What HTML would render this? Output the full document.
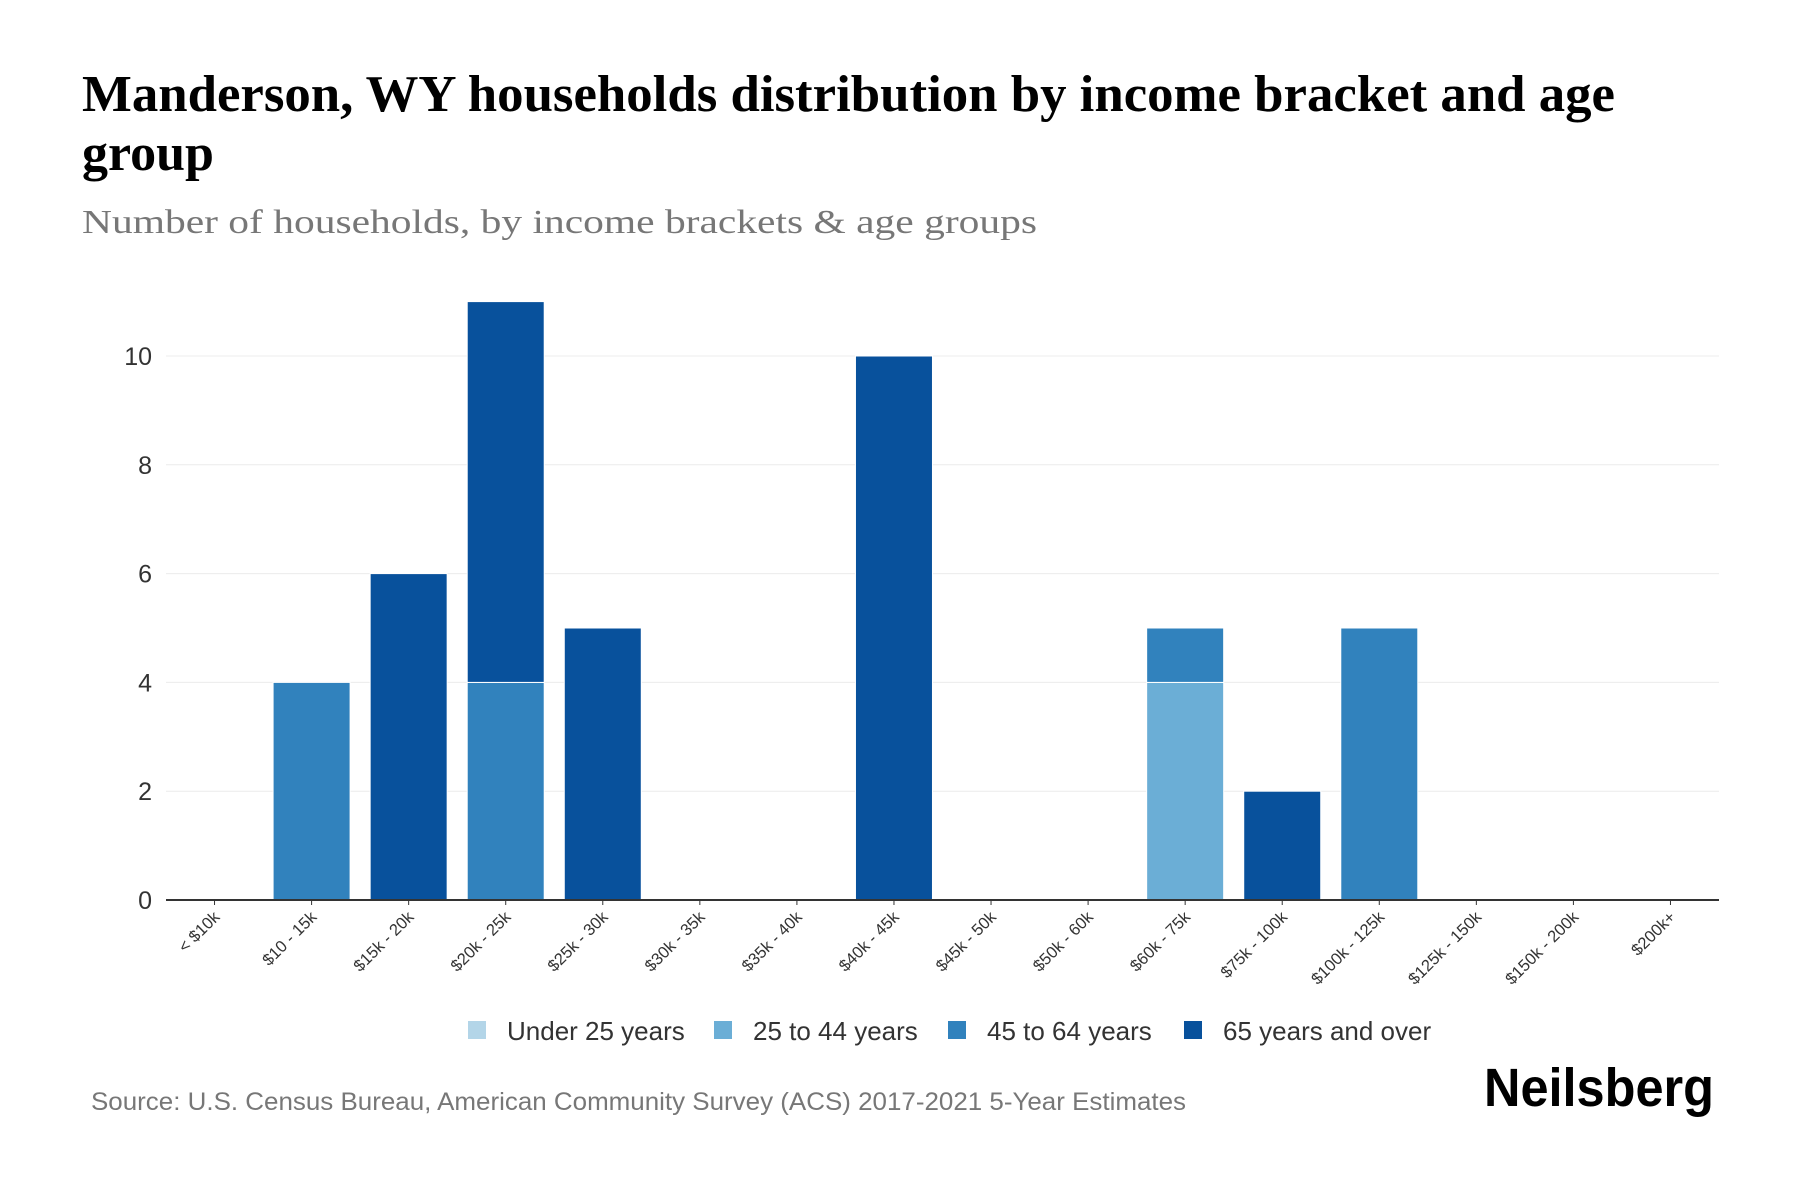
<!DOCTYPE html>
<html><head><meta charset="utf-8"><style>
html,body{margin:0;padding:0;background:#fff;}
svg{display:block;}
</style></head><body>
<svg id="chart" width="1800" height="1200" xmlns="http://www.w3.org/2000/svg">
<text x="82" y="111" font-family="Liberation Serif, serif" font-weight="bold" font-size="52" fill="#000" textLength="1533" lengthAdjust="spacingAndGlyphs">Manderson, WY households distribution by income bracket and age</text>
<text x="82" y="170" font-family="Liberation Serif, serif" font-weight="bold" font-size="52" fill="#000">group</text>
<text x="82" y="233" font-family="Liberation Serif, serif" font-size="34" fill="#777" textLength="955" lengthAdjust="spacingAndGlyphs">Number of households, by income brackets &amp; age groups</text>
<g id="grid"></g>
<g id="bars"></g>
<g id="axes"></g>
<g id="legend"></g>
<text x="91" y="1110" font-family="Liberation Sans, sans-serif" font-size="25" fill="#777" textLength="1095" lengthAdjust="spacingAndGlyphs">Source: U.S. Census Bureau, American Community Survey (ACS) 2017-2021 5-Year Estimates</text>
<text x="1484" y="1106" font-family="Liberation Sans, sans-serif" font-weight="bold" font-size="54" fill="#000" textLength="230" lengthAdjust="spacingAndGlyphs">Neilsberg</text>
</svg>
<script>
const categories = ["< $10k","$10 - 15k","$15k - 20k","$20k - 25k","$25k - 30k","$30k - 35k","$35k - 40k","$40k - 45k","$45k - 50k","$50k - 60k","$60k - 75k","$75k - 100k","$100k - 125k","$125k - 150k","$150k - 200k","$200k+"];
const under25 = [0,0,0,0,0,0,0,0,0,0,0,0,0,0,0,0];
const age25to44 = [0,0,0,0,0,0,0,0,0,0,4,0,0,0,0,0];
const age45to64 = [0,4,0,4,0,0,0,0,0,0,1,0,5,0,0,0];
const age65plus = [0,0,6,7,5,0,0,10,0,0,0,2,0,0,0,0];
const yTicks = [0,2,4,6,8,10];
const seriesNames = ["Under 25 years","25 to 44 years","45 to 64 years","65 years and over"];
const seriesColors = ["#b3d5e8","#6baed6","#3182bd","#08519c"];

const NS = "http://www.w3.org/2000/svg";
const X0 = 166, X1 = 1719, Y0 = 900, UNIT = 54.4;
const band = (X1 - X0) / categories.length;
const barW = 77;
function xCenter(i){ return X0 + band * (i + 0.5); }
function yPos(v){ return Y0 - v * UNIT; }
function mk(tag, attrs, parent){
  const e = document.createElementNS(NS, tag);
  for (const k in attrs) e.setAttribute(k, attrs[k]);
  parent.appendChild(e);
  return e;
}
const grid = document.getElementById('grid');
const bars = document.getElementById('bars');
const axes = document.getElementById('axes');
const legend = document.getElementById('legend');

yTicks.forEach(t => {
  if (t > 0) {
    const l = mk('line', {x1:X0, x2:X1, y1:yPos(t), y2:yPos(t), stroke:'#ececec', 'stroke-width':1}, grid);
    
    
  }
  const tx = mk('text', {x:152, y:yPos(t)+9, 'text-anchor':'end', 'font-family':'Liberation Sans, sans-serif', 'font-size':25, fill:'#333'}, axes);
  tx.textContent = t;
  
  
});

const series = [under25, age25to44, age45to64, age65plus];
categories.forEach((c, i) => {
  let acc = 0;
  series.forEach((s, si) => {
    const v = s[i];
    if (v > 0) {
      const r = mk('rect', {x:xCenter(i)-barW/2, y:yPos(acc+v), width:barW, height:v*UNIT, fill:seriesColors[si], stroke:'#fff', 'stroke-width':1}, bars);
      
      
    }
    acc += v;
  });
  const tk = mk('line', {x1:xCenter(i), x2:xCenter(i), y1:Y0, y2:Y0+5, stroke:'#333', 'stroke-width':1}, axes);
  
  
  const lx = xCenter(i) + 6, ly = Y0 + 18;
  const lt = mk('text', {x:lx, y:ly, 'text-anchor':'end', transform:`rotate(-45 ${lx} ${ly})`, 'font-family':'Liberation Sans, sans-serif', 'font-size':16.5, fill:'#333'}, axes);
  lt.textContent = c;
  
  
});
const ax = mk('line', {x1:X0, x2:X1, y1:Y0, y2:Y0, stroke:'#333', 'stroke-width':2}, axes);



const legSq = [468, 714, 948, 1184];
seriesNames.forEach((n, i) => {
  const sq = mk('rect', {x:legSq[i], y:1021, width:18, height:18, fill:seriesColors[i]}, legend);
  
  
  const t = mk('text', {x:legSq[i]+39, y:1040, 'font-family':'Liberation Sans, sans-serif', 'font-size':26, fill:'#333'}, legend);
  t.textContent = n;
  
  
});
</script>
</body></html>
